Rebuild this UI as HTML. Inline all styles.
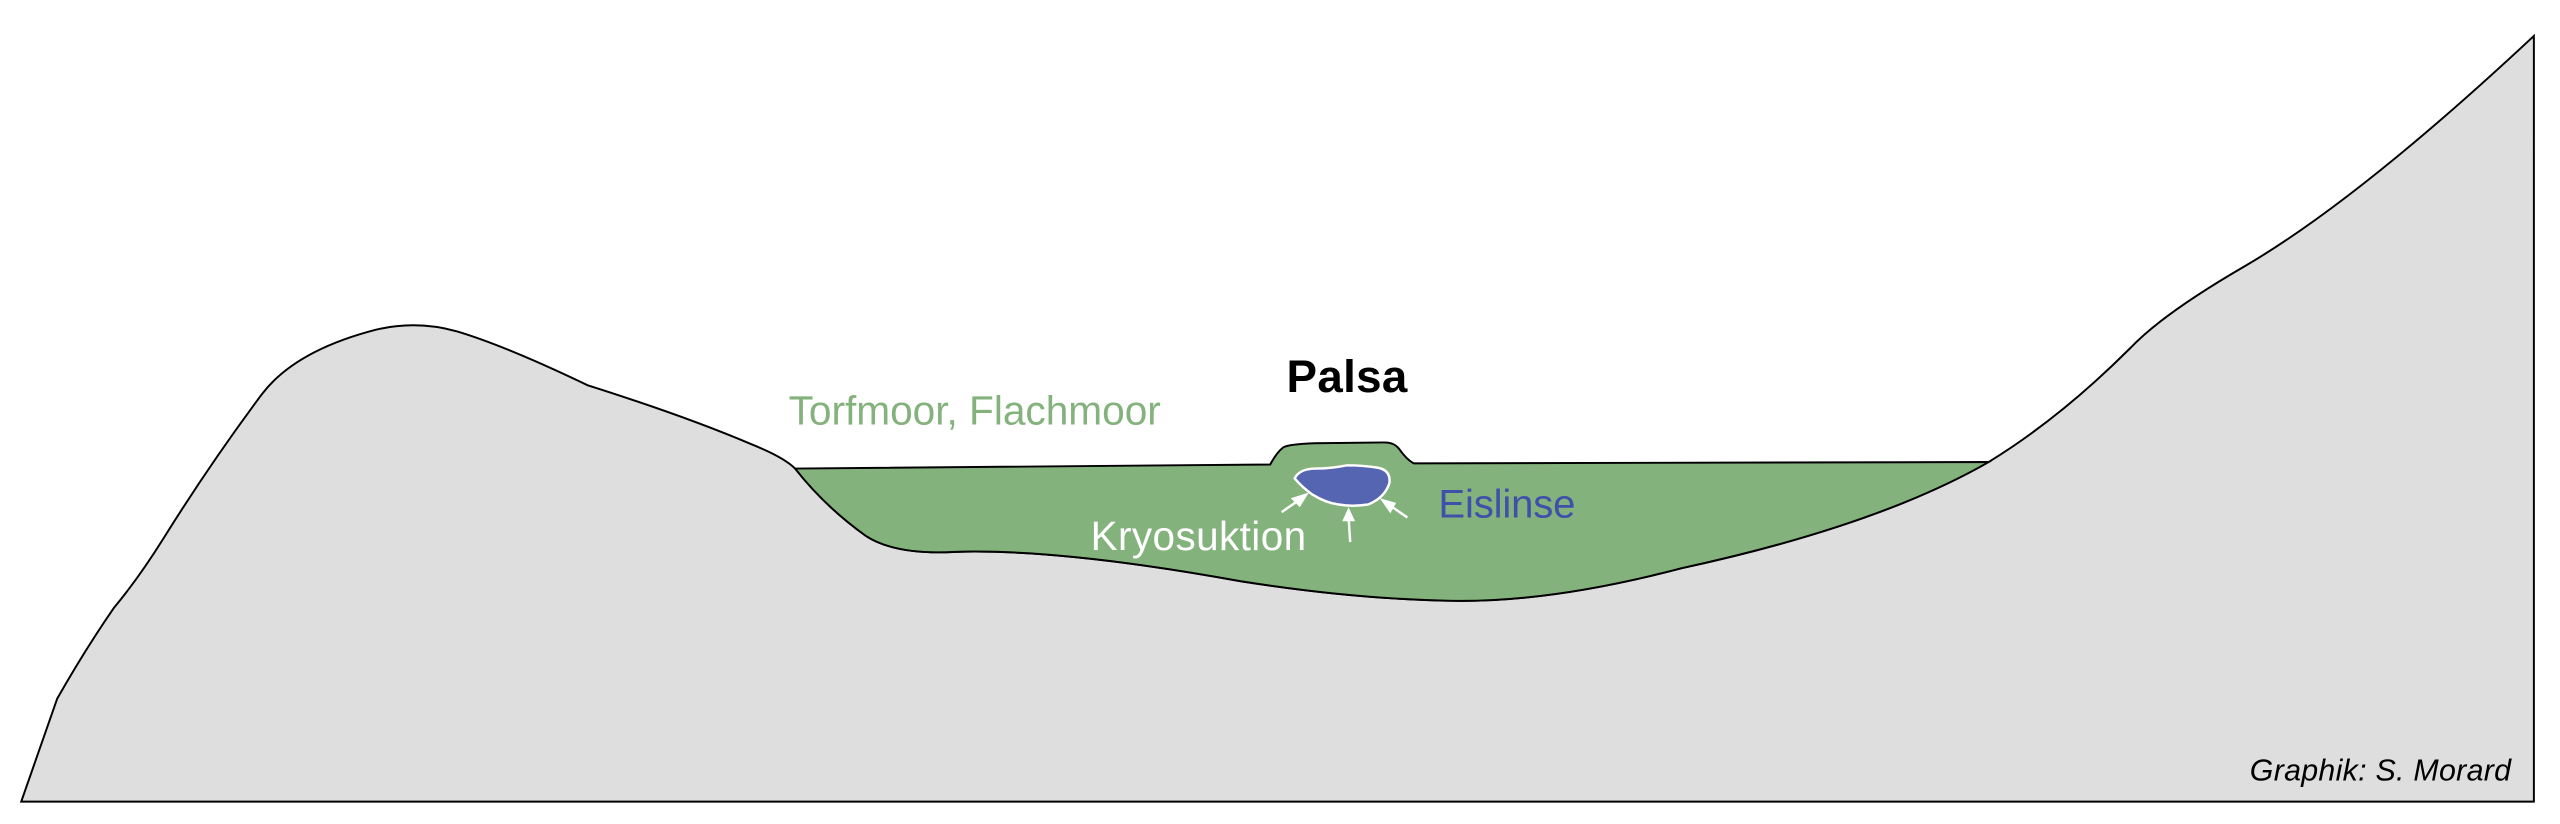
<!DOCTYPE html>
<html><head><meta charset="utf-8"><style>
html,body{margin:0;padding:0;background:#fff;}
svg{display:block;}
</style></head><body>
<svg width="2560" height="824" viewBox="0 0 1568 504.7" preserveAspectRatio="none" xmlns="http://www.w3.org/2000/svg">
<rect width="1568" height="505" fill="#fff"/>
<path d="M13,491 L35,428 Q52,398 70,372 Q85,354 100,330 Q128,285 160,242 Q180,215 230,202 Q255,196 280,203 Q310,212 360,236 Q420,255 460,272 Q480,280 487,287 Q505,310 530,328 Q548,340 585,338 Q650,336 760,356 Q830,367 890,368 Q950,369 1030,348 Q1150,322 1218,283 Q1262,256 1305,213 Q1325,192 1375,163 Q1445,122 1552,22 L1552,491 Z" fill="#dedede" stroke="#000" stroke-width="1.2"/>
<path d="M487,287 L778,284.5 Q782,277 786,274 Q790,272 805,271.5 L848,271 Q854,271 857,275 Q862,282 866,283.8 L1218,283 Q1150,322 1030,348 Q950,369 890,368 Q830,367 760,356 Q650,336 585,338 Q548,340 530,328 Q505,310 487,287 Z" fill="#84b27c" stroke="#000" stroke-width="1.2"/>
<path d="M793,293 Q796,287 806,287 Q815,287 825,285 Q835,285 844,286.5 Q852,288 851,296 Q848,305 838,309 Q828,310.5 820,309 Q812,308 804,303 Q797,298 793,293 Z" fill="#5565b2" stroke="#fff" stroke-width="1.5"/>
<g stroke="#fff" stroke-width="1.5" fill="#fff">
<line x1="785" y1="313.7" x2="796" y2="306"/>
<polygon points="800,303 792,305.5 796,309.5"/>
<line x1="827" y1="332" x2="826" y2="317"/>
<polygon points="826,312.5 823.3,318.5 828.8,318.5"/>
<line x1="862" y1="317" x2="850.5" y2="309"/>
<polygon points="847,306.5 851.5,313 854,308.5"/>
</g>
<g font-family="Liberation Sans, Arial, sans-serif">
<text x="483" y="260" font-size="24.9" fill="#84b27c" textLength="228">Torfmoor, Flachmoor</text>
<text x="788" y="240" font-size="28" font-weight="bold" fill="#000" textLength="74">Palsa</text>
<text x="668" y="337" font-size="24.8" fill="#fff" textLength="132">Kryosuktion</text>
<text x="881" y="317" font-size="24.6" fill="#3f50aa" textLength="84">Eislinse</text>
<text x="1378" y="478" font-size="18.6" font-style="italic" fill="#000" textLength="160">Graphik: S. Morard</text>
</g>
</svg>
</body></html>
